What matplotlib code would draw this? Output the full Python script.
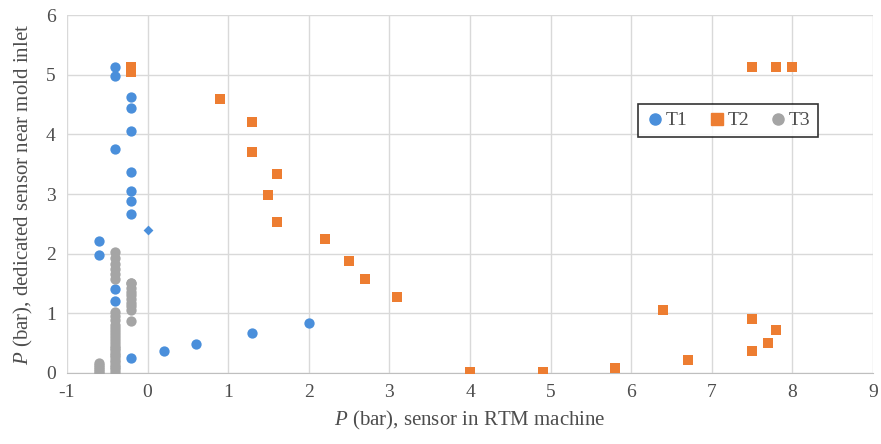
import matplotlib.pyplot as plt
from matplotlib.lines import Line2D

# T1: blue circles
t1_x = [-0.4, -0.4, -0.2, -0.2, -0.2, -0.4, -0.2, -0.2, -0.2, -0.2, -0.6, -0.6,
        -0.4, -0.4, -0.2, 0.2, 0.6, 1.3, 2.0]
t1_y = [5.13, 4.98, 4.63, 4.45, 4.05, 3.75, 3.37, 3.05, 2.88, 2.67, 2.22, 1.98,
        1.40, 1.20, 0.25, 0.36, 0.49, 0.67, 0.83]
# stray blue diamond
t1d_x = [0.0]
t1d_y = [2.40]

# T2: orange squares
t2_x = [-0.2, -0.2, 0.9, 1.3, 1.3, 1.6, 1.5, 1.6, 2.2, 2.5, 2.7, 3.1,
        4.0, 4.9, 5.8, 6.4, 6.7, 7.5, 7.5, 7.7, 7.8, 7.5, 7.8, 8.0]
t2_y = [5.13, 5.04, 4.60, 4.21, 3.70, 3.34, 2.98, 2.53, 2.25, 1.87, 1.57, 1.28,
        0.02, 0.02, 0.09, 1.06, 0.22, 0.90, 0.37, 0.51, 0.72, 5.13, 5.13, 5.13]

# T3: grey circles
t3_x = ([-0.6] * 6
        + [-0.4] * 28
        + [-0.2] * 10)
t3_y = ([0.00, 0.03, 0.06, 0.10, 0.14, 0.17]
        + [0.02, 0.06, 0.10, 0.14, 0.18, 0.22, 0.26, 0.30, 0.34, 0.38, 0.42,
           0.46, 0.50, 0.55, 0.60, 0.65, 0.70, 0.75, 0.80, 0.88, 0.95, 1.03,
           1.58, 1.66, 1.74, 1.82, 1.92, 2.02]
        + [0.87, 1.06, 1.12, 1.18, 1.24, 1.30, 1.36, 1.42, 1.50, 1.50])

BLUE = "#4a8fdb"
ORANGE = "#ed7d31"
GREY = "#a5a5a5"
TXT = "#4d4d4d"
GRID = "#d9d9d9"

plt.rcParams["font.family"] = ["Liberation Serif", "DejaVu Serif"]
plt.rcParams["mathtext.fontset"] = "custom"
plt.rcParams["mathtext.it"] = "Liberation Serif:italic"
plt.rcParams["mathtext.rm"] = "Liberation Serif"
plt.rcParams["axes.unicode_minus"] = False

fig = plt.figure(figsize=(8.81, 4.44), dpi=100)
ax = fig.add_axes([0.076, 0.160, 0.915, 0.806])

ax.scatter(t1_x, t1_y, s=55, color=BLUE, marker="o", zorder=3, linewidths=0)
ax.scatter(t1d_x, t1d_y, s=25, color=BLUE, marker="D", zorder=3, linewidths=0)
ax.scatter(t2_x, t2_y, s=60, color=ORANGE, marker="s", zorder=3, linewidths=0)
ax.scatter(t3_x, t3_y, s=55, color=GREY, marker="o", zorder=4, linewidths=0)

ax.set_xlim(-1, 9)
ax.set_ylim(0, 6)
ax.set_xticks(range(-1, 10))
ax.set_yticks(range(0, 7))
ax.grid(True, color=GRID, linewidth=1)
ax.set_axisbelow(True)
for side in ["top", "right", "left"]:
    ax.spines[side].set_visible(False)
ax.spines["bottom"].set_color("#bfbfbf")
ax.tick_params(length=0, labelsize=14, colors=TXT, pad=8)

ax.set_xlabel(r"$P$ (bar), sensor in RTM machine", fontsize=15, color=TXT, labelpad=6)
ax.set_ylabel(r"$P$ (bar), dedicated sensor near mold inlet", fontsize=15, color=TXT, labelpad=8)

handles = [
    Line2D([], [], marker="o", linestyle="", color=BLUE, markersize=8),
    Line2D([], [], marker="s", linestyle="", color=ORANGE, markersize=8),
    Line2D([], [], marker="o", linestyle="", color=GREY, markersize=8),
]
leg = ax.legend(handles, ["T1", "T2", "T3"], ncol=3, loc="center",
                bbox_to_anchor=(0.82, 0.705), frameon=True, fancybox=False,
                edgecolor="black", fontsize=14, handletextpad=0.05,
                columnspacing=1.0, handlelength=1.0, borderpad=0.4)
leg.get_frame().set_linewidth(1.2)
for t in leg.get_texts():
    t.set_color(TXT)

fig.savefig("out.png", dpi=100)
